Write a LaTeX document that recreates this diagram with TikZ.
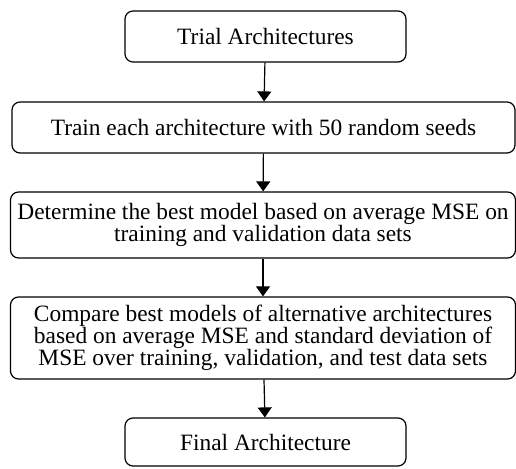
\documentclass[tikz,border=0pt]{standalone}
\usepackage{fontspec}
\setmainfont{Liberation Serif}
\usetikzlibrary{arrows.meta}

\tikzset{
  stepbox/.style={draw, rounded corners=8pt, line width=1.2pt, align=center,
    inner sep=0pt, font=\fontsize{23.4}{22}\selectfont},
  flow/.style={line width=1.2pt, -{Triangle[width=14pt,length=10pt]}}
}

\begin{document}
\begin{tikzpicture}[x=1pt,y=1pt]
    \useasboundingbox (0,0) rectangle (516,468);
    \node[stepbox, minimum width=281pt, minimum height=51pt] (trial) at (265.5,431.5) {Trial Architectures};
    \node[stepbox, minimum width=503pt, minimum height=51pt] (train) at (263.5,340.5) {Train each architecture with 50 random seeds};
    \node[stepbox, minimum width=505pt, minimum height=66pt] (best) at (263,243) {Determine the best model based on average MSE on\\training and validation data sets};
    \node[stepbox, minimum width=505pt, minimum height=82pt] (compare) at (263,130) {Compare best models of alternative architectures\\based on average MSE and standard deviation of\\MSE over training, validation, and test data sets};
    \node[stepbox, minimum width=281pt, minimum height=48pt] (final) at (265.5,26) {Final Architecture};
    % arrows
    \draw[flow] (trial) -- (train);
    \draw[flow] (train) -- (best);
    \draw[flow] (best) -- (compare);
    \draw[flow] (compare) -- (final);
\end{tikzpicture}
\end{document}
